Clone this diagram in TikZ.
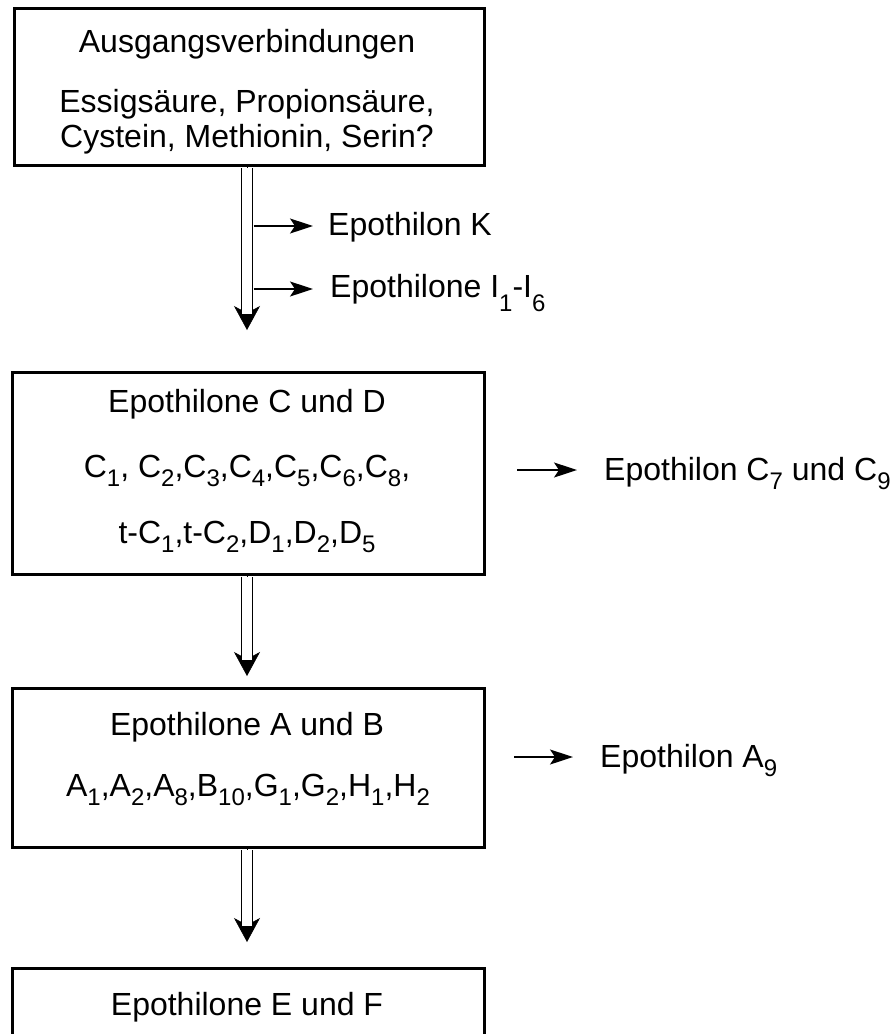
\documentclass[tikz,border=0pt]{standalone}
\usepackage{fontspec}
\setmainfont{Liberation Sans}
\usetikzlibrary{arrows.meta}
\newcommand\lsub[1]{\raisebox{-9pt}{\fontsize{24}{24}\selectfont #1}}
\newcommand\lsubI[1]{\raisebox{-14pt}{\fontsize{24}{24}\selectfont #1}}
\begin{document}
\begin{tikzpicture}[x=1pt,y=-1pt,
  font=\fontsize{32}{38}\selectfont,
  box/.style={draw, line width=3pt, inner sep=0pt, rectangle},
  txt/.style={inner sep=0pt, anchor=base},
  sidetxt/.style={inner ysep=0pt, anchor=base west},
  dbl/.style={double, double distance=9.5pt, line width=1.6pt, shorten <=1.6pt},
  mainhead/.style={-{Stealth[length=24pt,width=26pt,inset=7pt]}, line width=0.6pt},
  side/.style={-{Stealth[length=23pt,width=15pt,inset=5pt]}, line width=1.5pt}]
\useasboundingbox (0,0) rectangle (890,1034);
\clip (0,0) rectangle (890,1034);

% boxes
\node[box, minimum width=470pt, minimum height=157pt] (b1) at (249,86.5) {};
\node[box, minimum width=472pt, minimum height=202pt] (b2) at (248,473) {};
\node[box, minimum width=472pt, minimum height=159pt] (b3) at (248,767.5) {};
\node[box, minimum width=472pt, minimum height=140pt] (b4) at (248,1038) {};

% box texts
\node[txt] (t11) at (247,52) {Ausgangsverbindungen};
\node[txt] (t12) at (247,112) {Essigsäure, Propionsäure,};
\node[txt] (t13) at (247,147) {Cystein, Methionin, Serin?};

\node[txt] (t21) at (247,412) {Epothilone C und D};
\node[txt] (t22) at (247,477) {C\lsub{1}, C\lsub{2},C\lsub{3},C\lsub{4},C\lsub{5},C\lsub{6},C\lsub{8},};
\node[txt] (t23) at (247,543) {t-C\lsub{1},t-C\lsub{2},D\lsub{1},D\lsub{2},D\lsub{5}};

\node[txt] (t31) at (247,735) {Epothilone A und B};
\node[txt] (t32) at (248,796) {A\lsub{1},A\lsub{2},A\lsub{8},B\lsub{10},G\lsub{1},G\lsub{2},H\lsub{1},H\lsub{2}};

\node[txt] (t41) at (247,1015) {Epothilone E und F};

% main arrows
\coordinate (tip1) at (247,330);
\coordinate (tip2) at (247,676);
\coordinate (tip3) at (247,942);
\draw[mainhead] (b1.south -| tip1) -- (tip1);
\draw[dbl] (b1.south -| tip1) -- ([yshift=16pt]tip1);
\draw[mainhead] (b2.south -| tip2) -- (tip2);
\draw[dbl] (b2.south -| tip2) -- ([yshift=16pt]tip2);
\draw[mainhead] (b3.south -| tip3) -- (tip3);
\draw[dbl] (b3.south -| tip3) -- ([yshift=16pt]tip3);

% side products
\node[sidetxt, inner xsep=15pt] (ek) at (313,235) {Epothilon K};
\node[sidetxt, inner xsep=17pt] (ei) at (313,297) {Epothilone I\lsubI{1}-I\lsubI{6}};
\node[sidetxt, inner xsep=27pt] (ec) at (577,480) {Epothilon C\lsub{7} und C\lsub{9}};
\node[sidetxt, inner xsep=27pt] (ea) at (573,767) {Epothilon A\lsub{9}};

\coordinate (s1) at (253.5,226);
\coordinate (s2) at (253.5,289);
\coordinate (s3) at (517,470);
\coordinate (s4) at (514,757);
\draw[side] (s1) -- (s1 -| ek.west);
\draw[side] (s2) -- (s2 -| ei.west);
\draw[side] (s3) -- (s3 -| ec.west);
\draw[side] (s4) -- (s4 -| ea.west);
\end{tikzpicture}
\end{document}
